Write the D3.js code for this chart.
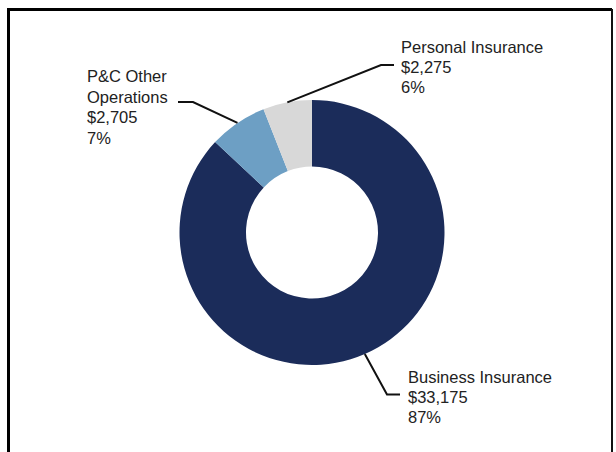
<!DOCTYPE html>
<html>
<head>
<meta charset="utf-8">
<script src="https://cdn.jsdelivr.net/npm/d3@7"></script>
<style>
  html, body { margin: 0; padding: 0; background: #fff; }
  svg { display: block; }
  text { font-family: "Liberation Sans", Arial, sans-serif; fill: #222; }
</style>
</head>
<body>
<svg id="chart" width="616" height="452"></svg>
<script>
// Segment data, in drawing order (clockwise from 12 o'clock)
const categories = ["Business Insurance", "P&C Other Operations", "Personal Insurance"];
const values = [33175, 2705, 2275];
const percentLabels = ["87%", "7%", "6%"];
const labelLines = [
  ["Business Insurance"],
  ["P&C Other", "Operations"],
  ["Personal Insurance"]
];
const colors = ["#1b2c5a", "#6d9fc4", "#d8d8d8"];

const W = 616, H = 452;
const cx = 312, cy = 232.5;
const outerR = 132.5, innerR = 66;

const svg = d3.select("#chart");

// Frame: heavy left/top edges, lighter right edge, bottom runs off the page
svg.append("path")
  .attr("d", `M8.5,${H + 5} L8.5,9.5 L${W - 4},9.5`)
  .attr("fill", "none").attr("stroke", "#000").attr("stroke-width", 3);
svg.append("line")
  .attr("x1", W - 4).attr("x2", W - 4).attr("y1", 9).attr("y2", H + 5)
  .attr("stroke", "#111").attr("stroke-width", 2);

const fmt = d3.format("$,");

const pie = d3.pie().sort(null).value(d => d.value);
const arcs = pie(categories.map((c, i) => ({ name: c, value: values[i], i })));

const arc = d3.arc().innerRadius(innerR).outerRadius(outerR);
const edgeArc = d3.arc().innerRadius(outerR).outerRadius(outerR);

const g = svg.append("g").attr("transform", `translate(${cx},${cy})`);

g.selectAll("path.slice")
  .data(arcs)
  .join("path")
  .attr("class", "slice")
  .attr("d", arc)
  .attr("fill", d => colors[d.data.i]);

// Leader-line layout per segment: elbow point and text anchor (relative to centre)
const layout = [
  { elbow: [75, 162], end: [88, 162], text: [96, 150.5], lh: 20 },
  { elbow: [-119, -130.5], end: [-134, -130.5], text: [-225, -150.5], lh: 20.5 },
  { elbow: [69, -167.5], end: [82, -167.5], text: [89, -179.5], lh: 20 }
];

arcs.forEach(d => {
  const L = layout[d.data.i];
  const a = (d.startAngle + d.endAngle) / 2;
  const start = [Math.sin(a) * outerR, -Math.cos(a) * outerR];
  g.append("polyline")
    .attr("points", [start, L.elbow, L.end].map(p => p.join(",")).join(" "))
    .attr("fill", "none").attr("stroke", "#111").attr("stroke-width", 2);

  const lines = labelLines[d.data.i].concat([fmt(d.data.value), percentLabels[d.data.i]]);
  const t = g.append("text")
    .attr("x", L.text[0]).attr("y", L.text[1])
    .attr("font-size", "16.5px");
  lines.forEach((s, k) => {
    t.append("tspan").attr("x", L.text[0]).attr("y", L.text[1] + k * L.lh).text(s);
  });
});
</script>
</body>
</html>
